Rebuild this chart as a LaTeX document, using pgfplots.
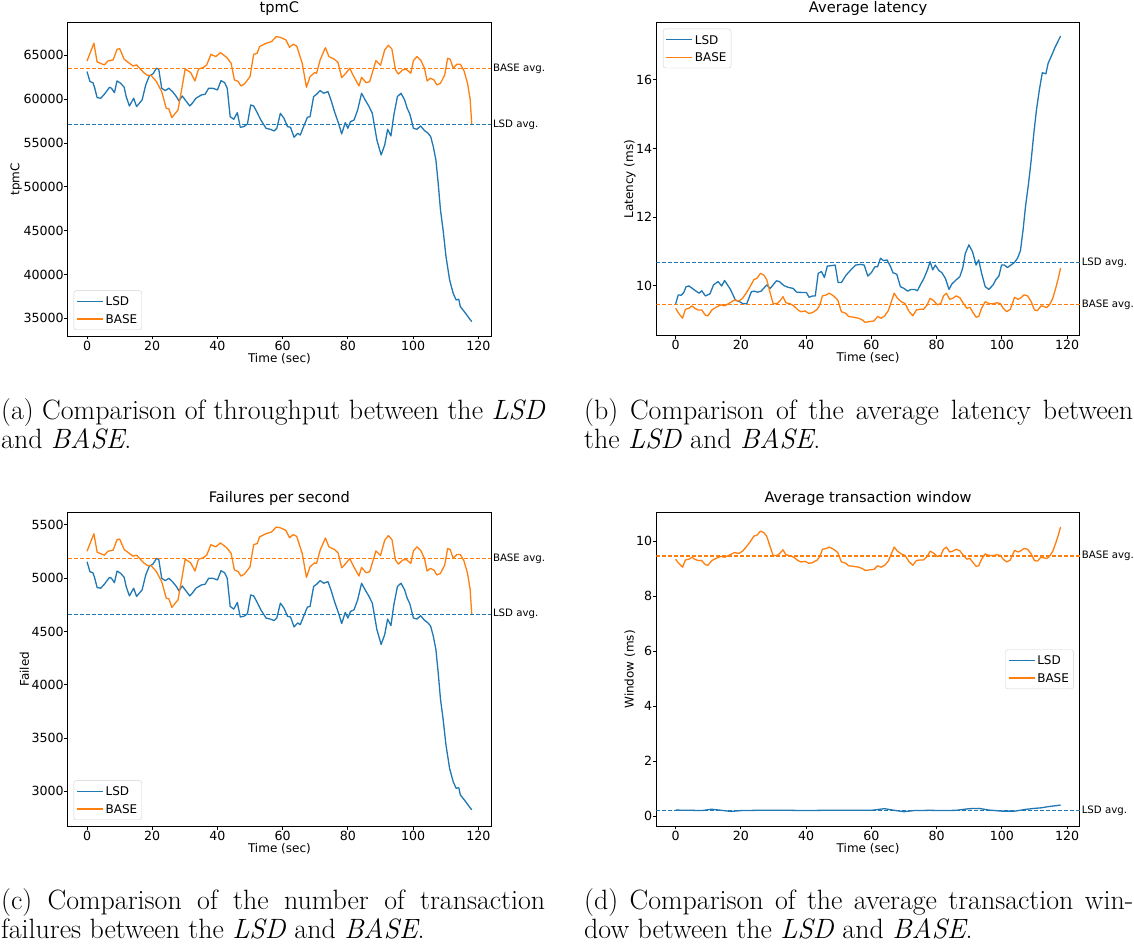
\documentclass[border=0pt]{standalone}
\usepackage{fontspec}
\usepackage{graphicx}
\usepackage{pgfplots}
\pgfplotsset{compat=1.18}
\newfontfamily\mpl{DejaVu Sans}
\definecolor{tblue}{HTML}{1F77B4}
\definecolor{torange}{HTML}{FF7F0E}
\tikzset{avglab/.style={anchor=west, inner sep=0pt, xshift=1.8pt, font=\mpl\fontsize{10.2}{10.2}\selectfont}}
\pgfplotsset{
  mplstyle/.style={
    scale only axis,
    anchor=south west,
    clip mode=individual,
    xmin=-5.9, xmax=123.9,
    xtick={0,20,...,120},
    axis line style={line width=0.9pt},
    tick style={black, line width=0.9pt},
    tick align=outside,
    major tick length=3.5pt,
    xtick pos=left, ytick pos=left,
    tick label style={font=\mpl\fontsize{12.6}{12.6}\selectfont},
    xticklabel style={inner sep=1pt},
    yticklabel style={inner xsep=0.5pt},
    /pgf/number format/assume math mode=true,
    /pgf/number format/fixed,
    /pgf/number format/1000 sep={},
    scaled y ticks=false,
    xlabel={Time (sec)},
    xlabel style={at={(axis description cs:0.5,-0.071)}, anchor=center, font=\mpl\fontsize{12}{12}\selectfont},
    ylabel style={anchor=center, font=\mpl\fontsize{12}{12}\selectfont},
    title style={at={(axis description cs:0.5,1)}, anchor=base, yshift=4pt, font=\mpl\fontsize{14.6}{14.6}\selectfont},
    every axis plot/.append style={mark=none, line width=1.3pt, line join=round},
    legend style={font=\mpl\fontsize{12}{12}\selectfont, draw=black!18, rounded corners=2.5pt, fill=white,
      inner xsep=2.5pt, inner ysep=2pt, cells={anchor=west},
      nodes={inner xsep=2pt, inner ysep=4.4pt, text height=8.75pt, text depth=0pt},
      /tikz/every even column/.append style={column sep=6pt}},
    legend image code/.code={\draw[#1, line width=1.3pt] (0pt,0pt) -- (26pt,0pt);},
  },
  avgline/.style={line width=1.1pt, dash pattern=on 4pt off 2pt, forget plot},
}
\newsavebox\capbox
\newlength\capw
\begin{document}%
\sbox\capbox{\fontsize{20}{24}\selectfont (a) Comparison of throughput between the \textit{LSD}}%
\setlength\capw{\wd\capbox}%
\pgfmathsetmacro\capscale{544/\capw}%
\pgfmathsetmacro\capwb{549/\capscale}%
\begin{tikzpicture}
\useasboundingbox (0,0) rectangle (1134pt,947pt);
% ---------------- (a)
\begin{axis}[mplstyle, at={(67.8pt,611pt)}, width=423.2pt, height=313.3pt,
  ymin=32981, ymax=68718, ytick={35000,40000,...,65000},
  title={tpmC}, ylabel={tpmC},
  ylabel style={at={(axis description cs:-0.122,0.5)}},
  legend style={at={(axis description cs:0,0)}, anchor=south west, xshift=5.8pt, yshift=6pt}]
\addplot[tblue] coordinates {(0,63140)(0.9,62000)(1.8,61880)(2.3,61350)(3.1,60170)(4.2,60100)(5.3,60550)(6.9,61350)(7.5,61240)(8.4,60740)(9.2,62070)(10.3,61810)(11.4,61350)(12,60290)(13,59220)(14.3,60100)(15.2,59150)(16.9,59910)(18,61620)(19.1,62640)(20.2,62870)(21.3,63520)(22,63400)(22.9,61240)(24,60970)(25.1,61240)(26.2,60860)(27.4,60290)(28.2,59790)(29.2,60360)(30.1,59910)(31.5,59220)(32.3,59530)(33.4,60100)(35.1,60480)(36.2,60550)(37.3,61240)(38.6,61240)(40,61050)(41.1,62110)(42.2,61880)(43,61240)(43.9,58000)(45,57700)(46.1,58460)(47,56790)(48.1,56860)(49.2,57170)(50.2,59330)(51.1,59220)(52.2,58460)(53.3,57620)(54.9,56670)(56.2,56560)(57.4,56370)(58.2,56670)(59.3,58380)(60.4,57810)(61.5,56860)(62.4,56790)(63.5,55650)(64.6,56100)(65.4,55910)(66.5,56940)(67.6,57930)(68.4,58000)(69.5,60290)(70.4,60550)(71.5,60970)(72.6,60670)(73.9,60860)(74.8,59910)(75.9,58570)(77.2,57170)(78.1,56030)(79.2,57320)(80,56670)(80.8,57430)(81.9,57620)(83,58760)(84.2,60670)(85.3,59910)(86.4,59220)(87.5,58380)(88.9,55340)(90.2,53630)(91.3,54770)(92.2,56560)(93.2,55800)(94.1,58190)(95.2,60290)(96.3,60670)(97.4,59910)(98.2,58950)(99,58310)(100.1,56670)(101.2,56560)(102.3,56940)(103.5,56410)(104.6,56100)(105.4,55720)(106.2,54580)(107,53060)(107.7,50400)(108.4,47360)(109.2,45080)(110.1,42040)(111.2,39380)(112.3,37850)(113.2,37090)(114,37170)(114.5,36330)(116.1,35570)(117.2,35000)(118,34620)};
\addplot[torange] coordinates {(0,64350)(2.1,66370)(3.1,64240)(5.3,63900)(6.4,64350)(8,64470)(9.2,65680)(10,65760)(11.4,64540)(14.1,63780)(15.2,63900)(17.4,63020)(18.5,62720)(19.6,62720)(21.3,62000)(22.9,60860)(24.3,58950)(25.1,58880)(26,57890)(27.9,58760)(29,61050)(30.1,63440)(31.8,63020)(33.1,62070)(34.2,63440)(35.6,63590)(36.7,63900)(38,65110)(39.5,64850)(40.9,65300)(42.8,64770)(44.2,64090)(45.2,62190)(46.3,62030)(47.2,61500)(48.3,61730)(50,62570)(51.1,65110)(52.2,65230)(52.9,65990)(54.9,66370)(56.6,66560)(58,67130)(59.3,67050)(61,66750)(62.1,65910)(63.2,66260)(64.3,66060)(66,64090)(67.3,61350)(68.4,62570)(69.8,63020)(70.4,62950)(71.5,64470)(73.1,65870)(74.2,64850)(75.9,64540)(77,64160)(78.1,62450)(79.2,62870)(80.6,63520)(81.4,62870)(82.5,62110)(83.4,61500)(84.2,62490)(85.6,61880)(86.7,62000)(88.6,64390)(90,63860)(91.3,65610)(92.4,66140)(93.5,65720)(94.6,63330)(95.5,62870)(96.8,63330)(97.9,63400)(99.3,62950)(100.1,64390)(101.2,64850)(102.3,64470)(103.5,63520)(104.3,62070)(105.3,62380)(106.4,62190)(107.3,61620)(108.4,61810)(109.7,62760)(110.6,64660)(111.4,64540)(112.3,63520)(113.4,63970)(114.5,63970)(115.6,63250)(116.7,61810)(117.5,59980)(118,57050)};
\addplot[tblue, avgline] coordinates {(-5.9,57126)(123.9,57126)};
\addplot[torange, avgline] coordinates {(-5.9,63514)(123.9,63514)};
\node[avglab] at (axis cs:123.9,63514) {BASE avg.};
\node[avglab] at (axis cs:123.9,57126) {LSD avg.};
\legend{LSD,BASE}
\end{axis}
% ---------------- (b)
\begin{axis}[mplstyle, at={(656.4pt,611.3pt)}, width=423.4pt, height=313pt,
  ymin=8.54, ymax=17.67, ytick={10,12,14,16},
  title={Average latency}, ylabel={Latency (ms)},
  ylabel style={at={(axis description cs:-0.063,0.5)}},
  legend style={at={(axis description cs:0,1)}, anchor=north west, xshift=6.5pt, yshift=-6pt}]
\addplot[tblue] coordinates {(0,9.47)(0.8,9.73)(1.7,9.72)(2.5,9.8)(3.2,9.97)(4.1,9.99)(5.8,9.87)(7.2,9.78)(8,9.85)(9.1,9.70)(10.5,9.76)(11.6,10.02)(13,10.12)(14.1,9.99)(15,10.15)(16.8,9.89)(18.3,9.58)(19.6,9.53)(20.7,9.47)(21.8,9.47)(23.2,9.82)(24,9.84)(25.1,9.81)(26.2,9.84)(27.9,10.02)(29,9.92)(30.9,10.14)(31.8,10.12)(33.2,10.0)(34.5,9.95)(36,9.92)(37.1,9.81)(39,9.80)(40.1,9.80)(40.9,9.66)(42,9.70)(42.8,9.70)(43.7,10.36)(44.7,10.41)(45.6,10.24)(46.5,10.57)(47.5,10.58)(48.9,10.60)(49.8,10.09)(50.8,10.09)(52.2,10.30)(53.9,10.48)(55.2,10.60)(56.7,10.62)(57.8,10.60)(58.9,10.28)(60,10.38)(61.1,10.55)(61.9,10.55)(62.8,10.80)(63.7,10.73)(64.8,10.75)(65.9,10.55)(66.6,10.38)(67.8,10.33)(68.9,9.97)(70,9.92)(71.1,9.84)(72.2,9.89)(73.3,9.89)(74.1,9.85)(75,10.02)(76.1,10.21)(77.2,10.46)(78,10.70)(78.8,10.46)(79.6,10.60)(80.7,10.44)(81.6,10.38)(82.7,10.21)(83.8,9.89)(84.7,10.05)(86,10.17)(87.1,10.26)(88,10.51)(88.8,10.94)(89.9,11.19)(91,10.99)(92.1,10.60)(92.9,10.75)(93.8,10.36)(94.9,9.97)(96,9.89)(97.3,10.02)(98.2,10.18)(99.1,10.28)(99.9,10.60)(100.8,10.60)(101.7,10.53)(102.8,10.60)(103.9,10.68)(104.8,10.80)(105.7,11.02)(106.5,11.62)(107.3,12.35)(108.2,12.99)(109,13.67)(109.8,14.44)(110.6,15.12)(111.5,15.71)(112.4,16.21)(113.5,16.18)(114.2,16.49)(115.1,16.68)(116.4,16.97)(118,17.28)};
\addplot[torange] coordinates {(0,9.34)(0.8,9.21)(2.1,9.05)(3,9.31)(4.1,9.34)(5,9.41)(5.8,9.34)(6.9,9.29)(8,9.29)(9.1,9.14)(9.9,9.12)(11.1,9.29)(12.4,9.37)(13.8,9.44)(15,9.41)(16.3,9.48)(18,9.58)(19.4,9.55)(20.5,9.63)(21.6,9.78)(22.7,9.95)(24,10.18)(24.9,10.21)(26,10.36)(27,10.31)(27.9,10.18)(29,9.78)(29.9,9.47)(31.2,9.48)(32,9.56)(32.9,9.68)(33.8,9.50)(35.1,9.47)(36.2,9.41)(37.5,9.29)(38.4,9.24)(39.7,9.26)(40.8,9.19)(41.9,9.21)(43.4,9.31)(44.2,9.44)(45,9.70)(46.2,9.73)(47.1,9.78)(48.4,9.70)(49.7,9.58)(50.8,9.24)(52.2,9.19)(53,9.10)(54.5,9.08)(56.1,9.05)(57.2,9.00)(58.1,8.93)(59.4,8.95)(60.8,8.97)(61.9,9.10)(63,9.05)(64.1,9.12)(65.2,9.27)(66.1,9.53)(67,9.78)(68,9.63)(69.2,9.53)(70.3,9.48)(71.6,9.24)(72.7,9.12)(73.8,9.29)(74.9,9.31)(76,9.31)(77.1,9.44)(78,9.63)(79.1,9.56)(80.2,9.44)(81.3,9.48)(82.1,9.70)(83,9.78)(84,9.60)(84.9,9.63)(86,9.70)(87.1,9.65)(88.2,9.48)(89.3,9.34)(90.2,9.37)(91,9.24)(92.1,9.08)(92.9,9.10)(93.8,9.34)(94.9,9.53)(96,9.48)(97.3,9.47)(98.4,9.50)(99.5,9.48)(100.4,9.34)(101.5,9.24)(102.6,9.31)(103.9,9.66)(105,9.60)(105.9,9.65)(106.8,9.73)(107.9,9.70)(109,9.53)(110,9.29)(110.9,9.27)(112,9.41)(112.9,9.39)(113.7,9.36)(114.6,9.44)(115.6,9.63)(116.5,9.92)(117.3,10.21)(118,10.51)};
\addplot[tblue, avgline] coordinates {(-5.9,10.68)(123.9,10.68)};
\addplot[torange, avgline] coordinates {(-5.9,9.455)(123.9,9.455)};
\node[avglab] at (axis cs:123.9,10.68) {LSD avg.};
\node[avglab] at (axis cs:123.9,9.455) {BASE avg.};
\legend{LSD,BASE}
\end{axis}
% ---------------- (c)
\begin{axis}[mplstyle, at={(67.8pt,121pt)}, width=423.2pt, height=313.3pt,
  ymin=2674, ymax=5615, ytick={3000,3500,...,5500},
  title={Failures per second}, ylabel={Failed},
  ylabel style={at={(axis description cs:-0.1025,0.5)}},
  legend style={at={(axis description cs:0,0)}, anchor=south west, xshift=5.8pt, yshift=6pt}]
\addplot[tblue] coordinates {(0,5154)(0.9,5061)(1.8,5051)(2.3,5008)(3.1,4912)(4.2,4906)(5.3,4943)(6.9,5008)(7.5,4999)(8.4,4958)(9.2,5067)(10.3,5046)(11.4,5008)(12,4922)(13,4834)(14.3,4906)(15.2,4829)(16.9,4891)(18,5030)(19.1,5113)(20.2,5132)(21.3,5185)(22,5176)(22.9,4999)(24,4977)(25.1,4999)(26.2,4968)(27.4,4922)(28.2,4881)(29.2,4927)(30.1,4891)(31.5,4834)(32.3,4860)(33.4,4906)(35.1,4937)(36.2,4943)(37.3,4999)(38.6,4999)(40,4984)(41.1,5070)(42.2,5051)(43,4999)(43.9,4735)(45,4710)(46.1,4772)(47,4636)(48.1,4642)(49.2,4667)(50.2,4843)(51.1,4834)(52.2,4772)(53.3,4704)(54.9,4626)(56.2,4617)(57.4,4602)(58.2,4626)(59.3,4766)(60.4,4719)(61.5,4642)(62.4,4636)(63.5,4543)(64.6,4580)(65.4,4564)(66.5,4648)(67.6,4729)(68.4,4735)(69.5,4922)(70.4,4943)(71.5,4977)(72.6,4953)(73.9,4968)(74.8,4891)(75.9,4781)(77.2,4667)(78.1,4574)(79.2,4679)(80,4626)(80.8,4688)(81.9,4704)(83,4797)(84.2,4953)(85.3,4891)(86.4,4834)(87.5,4766)(88.9,4518)(90.2,4378)(91.3,4471)(92.2,4617)(93.2,4555)(94.1,4750)(95.2,4922)(96.3,4953)(97.4,4891)(98.2,4812)(99,4760)(100.1,4626)(101.2,4617)(102.3,4648)(103.5,4605)(104.6,4580)(105.4,4549)(106.2,4456)(107,4331)(107.7,4114)(108.4,3866)(109.2,3680)(110.1,3432)(111.2,3215)(112.3,3090)(113.2,3028)(114,3034)(114.5,2966)(116.1,2904)(117.2,2857)(118,2826)};
\addplot[torange] coordinates {(0,5253)(2.1,5418)(3.1,5244)(5.3,5216)(6.4,5253)(8,5263)(9.2,5362)(10,5368)(11.4,5269)(14.1,5207)(15.2,5216)(17.4,5144)(18.5,5120)(19.6,5120)(21.3,5061)(22.9,4968)(24.3,4812)(25.1,4807)(26,4726)(27.9,4797)(29,4984)(30.1,5179)(31.8,5144)(33.1,5067)(34.2,5179)(35.6,5191)(36.7,5216)(38,5315)(39.5,5294)(40.9,5331)(42.8,5287)(44.2,5232)(45.2,5077)(46.3,5064)(47.2,5020)(48.3,5039)(50,5108)(51.1,5315)(52.2,5325)(52.9,5387)(54.9,5418)(56.6,5434)(58,5480)(59.3,5473)(61,5449)(62.1,5380)(63.2,5409)(64.3,5393)(66,5232)(67.3,5008)(68.4,5108)(69.8,5144)(70.4,5139)(71.5,5263)(73.1,5377)(74.2,5294)(75.9,5269)(77,5238)(78.1,5098)(79.2,5132)(80.6,5185)(81.4,5132)(82.5,5070)(83.4,5020)(84.2,5101)(85.6,5051)(86.7,5061)(88.6,5256)(90,5213)(91.3,5356)(92.4,5399)(93.5,5365)(94.6,5170)(95.5,5132)(96.8,5170)(97.9,5176)(99.3,5139)(100.1,5256)(101.2,5294)(102.3,5263)(103.5,5185)(104.3,5067)(105.3,5092)(106.4,5077)(107.3,5030)(108.4,5046)(109.7,5123)(110.6,5278)(111.4,5269)(112.3,5185)(113.4,5222)(114.5,5222)(115.6,5163)(116.7,5046)(117.5,4896)(118,4657)};
\addplot[tblue, avgline] coordinates {(-5.9,4663)(123.9,4663)};
\addplot[torange, avgline] coordinates {(-5.9,5185)(123.9,5185)};
\node[avglab] at (axis cs:123.9,5185) {BASE avg.};
\node[avglab] at (axis cs:123.9,4663) {LSD avg.};
\legend{LSD,BASE}
\end{axis}
% ---------------- (d)
\begin{axis}[mplstyle, at={(656.4pt,121pt)}, width=423.4pt, height=313.3pt,
  ymin=-0.36, ymax=11.03, ytick={0,2,...,10},
  title={Average transaction window}, ylabel={Window (ms)},
  ylabel style={at={(axis description cs:-0.063,0.5)}},
  legend style={at={(axis description cs:1,0.5)}, anchor=east, xshift=-6.2pt}]
\addplot[tblue] coordinates {(0,0.22)(3,0.21)(5,0.21)(8,0.20)(11,0.25)(14,0.21)(17,0.17)(20,0.20)(25,0.21)(30,0.21)(35,0.21)(40,0.20)(45,0.21)(50,0.21)(55,0.21)(60,0.21)(64,0.27)(67,0.21)(70,0.16)(73,0.20)(78,0.21)(82,0.20)(86,0.21)(90,0.27)(93,0.28)(96,0.22)(100,0.18)(104,0.18)(107,0.24)(110,0.28)(112,0.30)(114,0.34)(116,0.37)(118,0.40)};
\addplot[torange] coordinates {(0,9.34)(0.8,9.21)(2.1,9.05)(3,9.31)(4.1,9.34)(5,9.41)(5.8,9.34)(6.9,9.29)(8,9.29)(9.1,9.14)(9.9,9.12)(11.1,9.29)(12.4,9.37)(13.8,9.44)(15,9.41)(16.3,9.48)(18,9.58)(19.4,9.55)(20.5,9.63)(21.6,9.78)(22.7,9.95)(24,10.18)(24.9,10.21)(26,10.36)(27,10.31)(27.9,10.18)(29,9.78)(29.9,9.47)(31.2,9.48)(32,9.56)(32.9,9.68)(33.8,9.50)(35.1,9.47)(36.2,9.41)(37.5,9.29)(38.4,9.24)(39.7,9.26)(40.8,9.19)(41.9,9.21)(43.4,9.31)(44.2,9.44)(45,9.70)(46.2,9.73)(47.1,9.78)(48.4,9.70)(49.7,9.58)(50.8,9.24)(52.2,9.19)(53,9.10)(54.5,9.08)(56.1,9.05)(57.2,9.00)(58.1,8.93)(59.4,8.95)(60.8,8.97)(61.9,9.10)(63,9.05)(64.1,9.12)(65.2,9.27)(66.1,9.53)(67,9.78)(68,9.63)(69.2,9.53)(70.3,9.48)(71.6,9.24)(72.7,9.12)(73.8,9.29)(74.9,9.31)(76,9.31)(77.1,9.44)(78,9.63)(79.1,9.56)(80.2,9.44)(81.3,9.48)(82.1,9.70)(83,9.78)(84,9.60)(84.9,9.63)(86,9.70)(87.1,9.65)(88.2,9.48)(89.3,9.34)(90.2,9.37)(91,9.24)(92.1,9.08)(92.9,9.10)(93.8,9.34)(94.9,9.53)(96,9.48)(97.3,9.47)(98.4,9.50)(99.5,9.48)(100.4,9.34)(101.5,9.24)(102.6,9.31)(103.9,9.66)(105,9.60)(105.9,9.65)(106.8,9.73)(107.9,9.70)(109,9.53)(110,9.29)(110.9,9.27)(112,9.41)(112.9,9.39)(113.7,9.36)(114.6,9.44)(115.6,9.63)(116.5,9.92)(117.3,10.21)(118,10.51)};
\addplot[tblue, avgline] coordinates {(-5.9,0.21)(123.9,0.21)};
\addplot[torange, avgline] coordinates {(-5.9,9.455)(123.9,9.455)};
\node[avglab] at (axis cs:123.9,9.455) {BASE avg.};
\node[avglab] at (axis cs:123.9,0.21) {LSD avg.};
\legend{LSD,BASE}
\end{axis}
% ---------------- captions
\begin{scope}[every node/.style={anchor=base west, inner sep=0pt}]
\node at (1pt,527.7pt) {\scalebox{\capscale}{\makebox[\capw][s]{\fontsize{20}{24}\selectfont (a) Comparison of throughput between the \textit{LSD}}}};
\node at (1pt,498.7pt) {\scalebox{\capscale}{\fontsize{20}{24}\selectfont and \textit{BASE}.}};
\node at (584pt,527.7pt) {\scalebox{\capscale}{\makebox[\capwb pt][s]{\fontsize{20}{24}\selectfont (b) Comparison of the average latency between}}};
\node at (584pt,498.7pt) {\scalebox{\capscale}{\fontsize{20}{24}\selectfont the \textit{LSD} and \textit{BASE}.}};
\node at (1pt,37.5pt) {\scalebox{\capscale}{\makebox[\capw][s]{\fontsize{20}{24}\selectfont (c) Comparison of the number of transaction}}};
\node at (1pt,8.2pt) {\scalebox{\capscale}{\fontsize{20}{24}\selectfont failures between the \textit{LSD} and \textit{BASE}.}};
\node at (584pt,37.5pt) {\scalebox{\capscale}{\makebox[\capwb pt][s]{\fontsize{20}{24}\selectfont (d) Comparison of the average transaction win-}}};
\node at (584pt,8.2pt) {\scalebox{\capscale}{\fontsize{20}{24}\selectfont dow between the \textit{LSD} and \textit{BASE}.}};
\end{scope}
\end{tikzpicture}
\end{document}
